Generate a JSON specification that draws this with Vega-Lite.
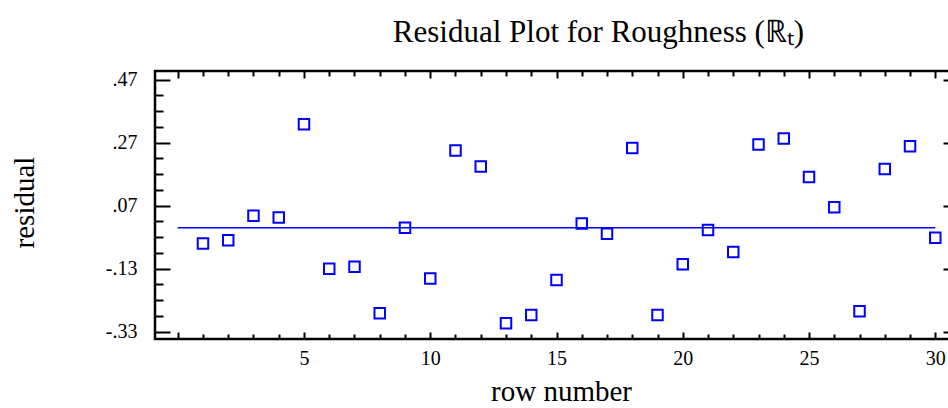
{
  "$schema": "https://vega.github.io/schema/vega-lite/v6.json",
  "width": 803,
  "height": 268,
  "autosize": "none",
  "padding": {"left": 155, "top": 71, "right": -10, "bottom": 69},
  "background": "white",
  "title": {
    "text": "Residual Plot for Roughness (ℝₜ)",
    "font": "Liberation Serif",
    "fontSize": 31,
    "fontWeight": "normal",
    "color": "black",
    "anchor": "middle",
    "dx": 42,
    "baseline": "alphabetic",
    "offset": -3
  },
  "config": {
    "view": {"stroke": "black", "strokeWidth": 2.5},
    "axis": {
      "grid": false,
      "domain": false,
      "tickColor": "black",
      "tickWidth": 2,
      "labelFont": "Liberation Serif",
      "labelFontSize": 20,
      "labelColor": "black",
      "titleFont": "Liberation Serif",
      "titleFontSize": 29,
      "titleFontWeight": "normal",
      "titleColor": "black"
    }
  },
  "resolve": {"axis": {"x": "independent", "y": "independent"}},
  "layer": [
    {
      "data": {"values": [{"from": 0, "to": 30, "level": 0}]},
      "mark": {"type": "rule", "color": "#0000FF", "strokeWidth": 1.6},
      "encoding": {
        "x": {
          "field": "from",
          "type": "quantitative",
          "scale": {"domain": [-0.9, 30.9], "nice": false, "zero": false},
          "axis": {
            "orient": "bottom",
            "title": "row number",
            "titleX": 406,
            "titleY": 61,
            "titleBaseline": "alphabetic",
            "titleAlign": "center",
            "values": [0,1,2,3,4,5,6,7,8,9,10,11,12,13,14,15,16,17,18,19,20,21,22,23,24,25,26,27,28,29,30],
            "labelExpr": "datum.value % 5 === 0 && datum.value > 0 ? datum.label : ''",
            "tickSize": {"condition": {"test": "datum.value % 5 === 0", "value": -7}, "value": -5},
            "labelPadding": 16,
            "labelFlush": false,
            "labelOverlap": false
          }
        },
        "x2": {"field": "to"},
        "y": {
          "field": "level",
          "type": "quantitative",
          "scale": {"domain": [-0.353, 0.497], "nice": false, "zero": false},
          "axis": {
            "orient": "left",
            "title": "residual",
            "titleX": -122,
            "titleY": 131,
            "titleAngle": -90,
            "titleBaseline": "alphabetic",
            "titleAlign": "center",
            "values": [0.47,0.42,0.37,0.32,0.27,0.22,0.17,0.12,0.07,0.02,-0.03,-0.08,-0.13,-0.18,-0.23,-0.28,-0.33],
            "labelExpr": "indexof([0.47,0.27,0.07,-0.13,-0.33], datum.value) >= 0 ? replace(replace(format(datum.value, '.2f'), '−', '-'), '0.', '.') : ''",
            "tickSize": {"condition": {"test": "indexof([0.47,0.27,0.07,-0.13,-0.33], datum.value) >= 0", "value": -15}, "value": -8},
            "labelPadding": 33,
            "labelFlush": false,
            "labelOverlap": false
          }
        }
      }
    },
    {
      "data": {
        "values": [
          {"row": 1, "residual": -0.05},
          {"row": 2, "residual": -0.04},
          {"row": 3, "residual": 0.038},
          {"row": 4, "residual": 0.032},
          {"row": 5, "residual": 0.328},
          {"row": 6, "residual": -0.13},
          {"row": 7, "residual": -0.124},
          {"row": 8, "residual": -0.271},
          {"row": 9, "residual": 0.0},
          {"row": 10, "residual": -0.161},
          {"row": 11, "residual": 0.245},
          {"row": 12, "residual": 0.194},
          {"row": 13, "residual": -0.303},
          {"row": 14, "residual": -0.277},
          {"row": 15, "residual": -0.166},
          {"row": 16, "residual": 0.013},
          {"row": 17, "residual": -0.019},
          {"row": 18, "residual": 0.253},
          {"row": 19, "residual": -0.277},
          {"row": 20, "residual": -0.116},
          {"row": 21, "residual": -0.007},
          {"row": 22, "residual": -0.077},
          {"row": 23, "residual": 0.264},
          {"row": 24, "residual": 0.283},
          {"row": 25, "residual": 0.161},
          {"row": 26, "residual": 0.065},
          {"row": 27, "residual": -0.265},
          {"row": 28, "residual": 0.186},
          {"row": 29, "residual": 0.258},
          {"row": 30, "residual": -0.032}
        ]
      },
      "mark": {"type": "point", "shape": "square", "filled": false, "color": "#0000FF", "strokeWidth": 2, "size": 110, "opacity": 1},
      "encoding": {
        "x": {
          "field": "row",
          "type": "quantitative",
          "axis": {
            "orient": "top",
            "title": null,
            "labels": false,
            "values": [0,1,2,3,4,5,6,7,8,9,10,11,12,13,14,15,16,17,18,19,20,21,22,23,24,25,26,27,28,29,30],
            "tickSize": {"condition": {"test": "datum.value % 5 === 0", "value": -7}, "value": -5}
          }
        },
        "y": {
          "field": "residual",
          "type": "quantitative",
          "axis": {
            "orient": "right",
            "title": null,
            "labels": false,
            "values": [0.47,0.42,0.37,0.32,0.27,0.22,0.17,0.12,0.07,0.02,-0.03,-0.08,-0.13,-0.18,-0.23,-0.28,-0.33],
            "tickSize": {"condition": {"test": "indexof([0.47,0.27,0.07,-0.13,-0.33], datum.value) >= 0", "value": -15}, "value": -8}
          }
        }
      }
    }
  ]
}
